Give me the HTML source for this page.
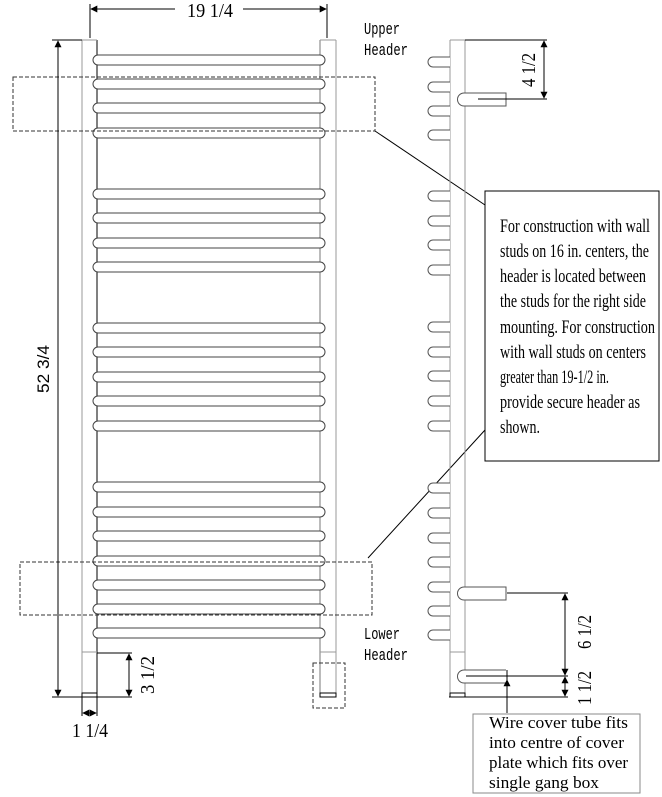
<!DOCTYPE html>
<html><head><meta charset="utf-8"><style>html,body{margin:0;padding:0;background:#fff}svg{display:block}</style></head>
<body>
<svg width="662" height="797" viewBox="0 0 662 797" xmlns="http://www.w3.org/2000/svg" font-family="Liberation Serif, serif">
<defs>
<marker id="a" viewBox="0 0 10 10" refX="9" refY="5" markerWidth="7" markerHeight="7" orient="auto-start-reverse"><path d="M0,0L10,5L0,10z" fill="#000"/></marker>
</defs>
<g fill="none">
<line x1="82" y1="40" x2="82" y2="697" stroke="#999"/>
<line x1="97" y1="40" x2="97" y2="697" stroke="#000"/>
<line x1="82" y1="40" x2="97" y2="40" stroke="#999"/>
<line x1="82" y1="652" x2="97" y2="652" stroke="#999"/>
<rect x="82" y="693" width="15" height="4" stroke="#000"/>
<line x1="320" y1="40" x2="320" y2="697" stroke="#777"/>
<line x1="336" y1="40" x2="336" y2="697" stroke="#999"/>
<line x1="320" y1="40" x2="336" y2="40" stroke="#999"/>
<line x1="320" y1="652" x2="336" y2="652" stroke="#999"/>
<rect x="320" y="693" width="16" height="4" stroke="#000"/>
</g>
<g fill="#fff" stroke="#444">
<rect x="93" y="55" width="232" height="10" rx="5"/>
<rect x="93" y="79" width="232" height="10" rx="5"/>
<rect x="93" y="103" width="232" height="10" rx="5"/>
<rect x="93" y="128" width="232" height="10" rx="5"/>
<rect x="93" y="189" width="232" height="10" rx="5"/>
<rect x="93" y="213" width="232" height="10" rx="5"/>
<rect x="93" y="238" width="232" height="10" rx="5"/>
<rect x="93" y="262" width="232" height="10" rx="5"/>
<rect x="93" y="323" width="232" height="10" rx="5"/>
<rect x="93" y="347" width="232" height="10" rx="5"/>
<rect x="93" y="372" width="232" height="10" rx="5"/>
<rect x="93" y="396" width="232" height="10" rx="5"/>
<rect x="93" y="421" width="232" height="10" rx="5"/>
<rect x="93" y="482" width="232" height="10" rx="5"/>
<rect x="93" y="507" width="232" height="10" rx="5"/>
<rect x="93" y="531" width="232" height="10" rx="5"/>
<rect x="93" y="556" width="232" height="10" rx="5"/>
<rect x="93" y="580" width="232" height="10" rx="5"/>
<rect x="93" y="604" width="232" height="10" rx="5"/>
<rect x="93" y="628" width="232" height="10" rx="5"/>
</g>
<g fill="none" stroke="#333" stroke-dasharray="4,2">
<rect x="13" y="77" width="362" height="54"/>
<rect x="20" y="562" width="352" height="53"/>
<rect x="313" y="663" width="32" height="45"/>
</g>
<g stroke="#000" fill="none">
<line x1="90" y1="38" x2="90" y2="4"/>
<line x1="327" y1="38" x2="327" y2="4"/>
<line x1="91" y1="9" x2="175" y2="9" marker-start="url(#a)"/>
<line x1="243" y1="9" x2="326" y2="9" marker-end="url(#a)"/>
<line x1="52" y1="40" x2="82" y2="40"/>
<line x1="58" y1="41" x2="58" y2="696" marker-start="url(#a)" marker-end="url(#a)"/>
<line x1="52" y1="697" x2="132" y2="697"/>
<line x1="97" y1="653" x2="132" y2="653"/>
<line x1="129" y1="654" x2="129" y2="696" marker-start="url(#a)" marker-end="url(#a)"/>
<line x1="82" y1="697" x2="82" y2="716"/>
<line x1="97" y1="697" x2="97" y2="716"/>
<line x1="83" y1="713" x2="96" y2="713" marker-start="url(#a)" marker-end="url(#a)"/>
<line x1="375" y1="131" x2="485" y2="205"/>
<line x1="368" y1="558" x2="485" y2="430"/>
</g>
<g fill="none">
<line x1="450" y1="40" x2="450" y2="697" stroke="#999"/>
<line x1="465" y1="40" x2="465" y2="697" stroke="#999"/>
<line x1="450" y1="40" x2="465" y2="40" stroke="#999"/>
<line x1="450" y1="652" x2="465" y2="652" stroke="#999"/>
<rect x="450" y="693" width="15" height="4" stroke="#000"/>
</g>
<g fill="#fff" stroke="#555">
<path d="M450,57h-17a5,5 0 0 0 0,10h17"/>
<path d="M450,82h-17a5,5 0 0 0 0,10h17"/>
<path d="M450,106h-17a5,5 0 0 0 0,10h17"/>
<path d="M450,130h-17a5,5 0 0 0 0,10h17"/>
<path d="M450,191h-17a5,5 0 0 0 0,10h17"/>
<path d="M450,216h-17a5,5 0 0 0 0,10h17"/>
<path d="M450,240h-17a5,5 0 0 0 0,10h17"/>
<path d="M450,265h-17a5,5 0 0 0 0,10h17"/>
<path d="M450,322h-17a5,5 0 0 0 0,10h17"/>
<path d="M450,347h-17a5,5 0 0 0 0,10h17"/>
<path d="M450,371h-17a5,5 0 0 0 0,10h17"/>
<path d="M450,396h-17a5,5 0 0 0 0,10h17"/>
<path d="M450,421h-17a5,5 0 0 0 0,10h17"/>
<path d="M450,483h-17a5,5 0 0 0 0,10h17"/>
<path d="M450,508h-17a5,5 0 0 0 0,10h17"/>
<path d="M450,533h-17a5,5 0 0 0 0,10h17"/>
<path d="M450,557h-17a5,5 0 0 0 0,10h17"/>
<path d="M450,582h-17a5,5 0 0 0 0,10h17"/>
<path d="M450,606h-17a5,5 0 0 0 0,10h17"/>
<path d="M450,630h-17a5,5 0 0 0 0,10h17"/>
<path d="M506,93h-42a6.5,6.5 0 0 0 0,13h42z"/>
<path d="M506,587h-42a6.5,6.5 0 0 0 0,13h42z"/>
<path d="M506,670h-42a6.5,6.5 0 0 0 0,13h42"/>
</g>
<g stroke="#000" fill="none">
<line x1="465" y1="40" x2="547" y2="40"/>
<line x1="478" y1="99" x2="547" y2="99"/>
<line x1="544" y1="41" x2="544" y2="98" marker-start="url(#a)" marker-end="url(#a)"/>
<line x1="507" y1="593" x2="568" y2="593"/>
<line x1="466" y1="676" x2="568" y2="676"/>
<line x1="449" y1="697" x2="568" y2="697"/>
<line x1="565" y1="594" x2="565" y2="675" marker-start="url(#a)" marker-end="url(#a)"/>
<line x1="565" y1="677" x2="565" y2="696" marker-start="url(#a)" marker-end="url(#a)"/>
<line x1="507" y1="670" x2="507" y2="713"/>
<line x1="507" y1="713" x2="507" y2="680" marker-end="url(#a)"/>
</g>
<rect x="485" y="191" width="174" height="270" fill="#fff" stroke="#000"/>
<rect x="473" y="714" width="167" height="79" fill="#fff" stroke="#888"/>
<g font-size="20" fill="#000">
<text x="187" y="17" textLength="46" lengthAdjust="spacingAndGlyphs">19 1/4</text>
<text transform="translate(49,369) rotate(-90)" text-anchor="middle" font-family="Liberation Sans, sans-serif" font-size="17" textLength="48" lengthAdjust="spacingAndGlyphs">52  3/4</text>
<text transform="translate(154,675) rotate(-90)" text-anchor="middle" textLength="38" lengthAdjust="spacingAndGlyphs">3 1/2</text>
<text x="90" y="737" text-anchor="middle" textLength="36" lengthAdjust="spacingAndGlyphs">1 1/4</text>
<text transform="translate(535,70) rotate(-90)" text-anchor="middle" textLength="34" lengthAdjust="spacingAndGlyphs">4 1/2</text>
<text transform="translate(591,632) rotate(-90)" text-anchor="middle" textLength="34" lengthAdjust="spacingAndGlyphs">6 1/2</text>
<text transform="translate(591,688) rotate(-90)" text-anchor="middle" textLength="34" lengthAdjust="spacingAndGlyphs">1 1/2</text>
</g>
<g font-size="17" fill="#000" font-family="Liberation Mono, monospace">
<text x="364" y="34" textLength="36" lengthAdjust="spacingAndGlyphs">Upper</text>
<text x="364" y="55" textLength="44" lengthAdjust="spacingAndGlyphs">Header</text>
<text x="364" y="639" textLength="36" lengthAdjust="spacingAndGlyphs">Lower</text>
<text x="364" y="660" textLength="44" lengthAdjust="spacingAndGlyphs">Header</text>
</g>
<g font-size="19" fill="#000">
<text x="500" y="232" textLength="150" lengthAdjust="spacingAndGlyphs">For construction with wall</text>
<text x="500" y="257" textLength="149" lengthAdjust="spacingAndGlyphs">studs on 16 in. centers, the</text>
<text x="500" y="282" textLength="146" lengthAdjust="spacingAndGlyphs">header is located between</text>
<text x="500" y="307" textLength="146" lengthAdjust="spacingAndGlyphs">the studs for the right side</text>
<text x="500" y="333" textLength="155" lengthAdjust="spacingAndGlyphs">mounting. For construction</text>
<text x="500" y="358" textLength="146" lengthAdjust="spacingAndGlyphs">with wall studs on centers</text>
<text x="500" y="383" textLength="109" lengthAdjust="spacingAndGlyphs">greater than 19-1/2 in.</text>
<text x="500" y="408" textLength="140" lengthAdjust="spacingAndGlyphs">provide secure header as</text>
<text x="500" y="433" textLength="40" lengthAdjust="spacingAndGlyphs">shown.</text>
</g>
<g font-size="17" fill="#000">
<text x="489" y="728" textLength="139" lengthAdjust="spacingAndGlyphs">Wire cover tube fits</text>
<text x="489" y="748" textLength="135" lengthAdjust="spacingAndGlyphs">into centre of cover</text>
<text x="489" y="768" textLength="139" lengthAdjust="spacingAndGlyphs">plate which fits over</text>
<text x="489" y="788" textLength="110" lengthAdjust="spacingAndGlyphs">single gang box</text>
</g>
</svg>
</body></html>
